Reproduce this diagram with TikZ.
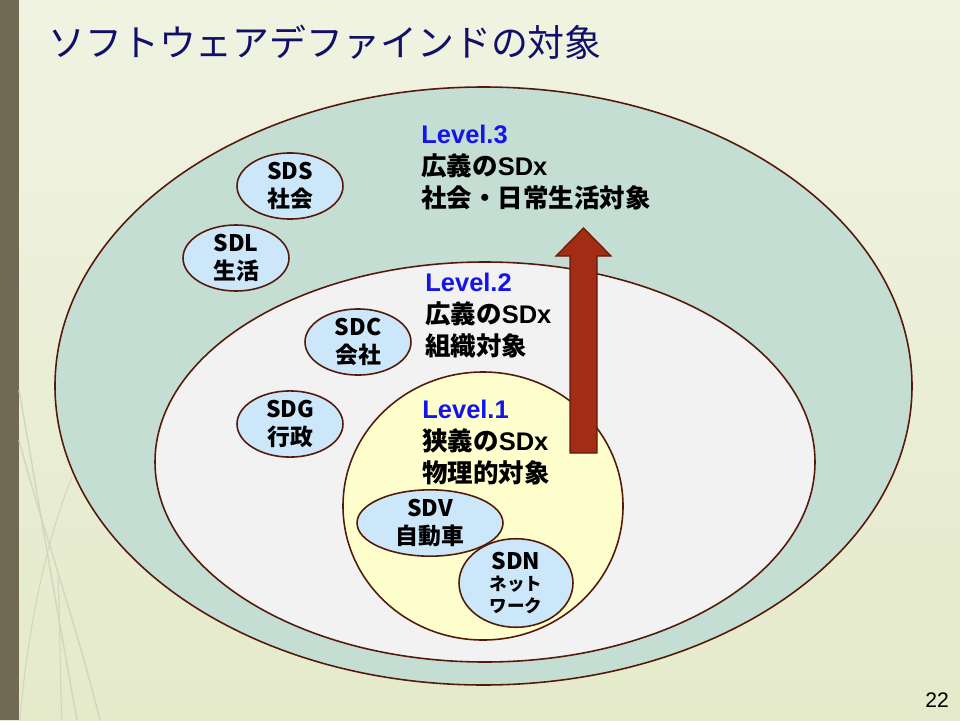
\documentclass[tikz,border=0pt]{standalone}
\usepackage{fontspec}
\setmainfont{Liberation Sans}
\newfontfamily\jp{Noto Sans CJK JP}
\usepackage{tikz}
\usetikzlibrary{positioning,shapes.geometric}

\definecolor{slidetop}{RGB}{241,243,226}
\definecolor{slidebot}{RGB}{228,234,202}
\definecolor{sidebar}{RGB}{112,106,82}
\definecolor{swirl}{RGB}{208,214,192}
\definecolor{titleblue}{RGB}{16,16,104}
\definecolor{ringline}{RGB}{85,25,10}
\definecolor{societyfill}{RGB}{197,222,212}
\definecolor{orgfill}{RGB}{242,242,242}
\definecolor{physfill}{RGB}{255,255,206}
\definecolor{tagfill}{RGB}{204,230,250}
\definecolor{lvblue}{RGB}{20,20,235}
\definecolor{arrowfill}{RGB}{162,45,20}
\definecolor{arrowline}{RGB}{100,25,10}

\newcommand{\smalljp}[1]{{\fontsize{10}{11}\selectfont #1}}

\tikzset{
  ring/.style={draw=ringline, line width=0.9pt},
  tag/.style={ellipse, draw=ringline, line width=0.9pt, fill=tagfill, inner sep=0pt,
    align=center, font=\jp\bfseries\fontsize{13}{15.5}\selectfont},
  lvtext/.style={anchor=north west, inner sep=0pt, align=left,
    font=\bfseries\fontsize{14.5}{18}\selectfont}
}

\begin{document}
\begin{tikzpicture}[x=0.02cm, y=-0.02cm]
    \useasboundingbox (0,0) rectangle (960,720);
    % Slide background
    \shade[top color=slidetop, bottom color=slidebot] (0,0) rectangle (960,720);
    \fill[sidebar] (0,0) rectangle (19,720);
    \draw[swirl, line width=0.8pt] (19,390) .. controls (35,480) and (55,600) .. (77,720);
    \draw[swirl, line width=0.8pt] (19,440) .. controls (40,520) and (75,620) .. (100,720);
    \draw[swirl, line width=0.6pt] (72,477) .. controls (50,530) and (28,620) .. (20,720);
    \draw[swirl, line width=0.6pt] (58,577) .. controls (60,620) and (60,680) .. (62,720);

    % Title
    \node[anchor=west, inner sep=0pt, text=titleblue, font=\jp\fontsize{21}{25}\selectfont]
      (title) at (48,42) {ソフトウェアデファインドの対象};

    % Level rings
    \draw[ring, fill=societyfill] (483.5,386) ellipse [x radius=428.5, y radius=299];
    \draw[ring, fill=orgfill] (485,462) ellipse [x radius=330, y radius=200];
    \draw[ring, fill=physfill] (483,506) ellipse [x radius=140, y radius=134];

    % Upward arrow
    \draw[arrowline, fill=arrowfill, line width=0.7pt]
      (570,453) -- (570,256) -- (556,256) -- (583.5,228) -- (611,256)
      -- (597,256) -- (597,453) -- cycle;

    % Level texts
    \node[lvtext] (lvthree) at (421,125)
      {\textcolor{lvblue}{Level.3}\\{\jp 広義の}SDx\\{\jp 社会・日常生活対象}};
    \node[lvtext] (lvtwo) at (425,273)
      {\textcolor{lvblue}{Level.2}\\{\jp 広義の}SDx\\{\jp 組織対象}};
    \node[lvtext] (lvone) at (422,400)
      {\textcolor{lvblue}{Level.1}\\{\jp 狭義の}SDx\\{\jp 物理的対象}};

    % Domain tags
    \node[tag, minimum width=2.12cm, minimum height=1.12cm] (sds) at (290,186) {SDS\\社会};
    \node[tag, minimum width=2.12cm, minimum height=1.16cm] (sdl) at (236,258) {SDL\\生活};
    \node[tag, minimum width=2.12cm, minimum height=1.16cm] (sdc) at (358,342) {SDC\\会社};
    \node[tag, minimum width=2.12cm, minimum height=1.16cm] (sdg) at (290,424) {SDG\\行政};
    \node[tag, minimum width=2.92cm, minimum height=1.22cm] (sdv) at (430,523) {SDV\\自動車};
    \node[tag, minimum width=2.28cm, minimum height=1.28cm] (sdn) at (516,583)
      {SDN\\[-3pt]\smalljp{ネット}\\[-3pt]\smalljp{ワーク}};

    % Page number
    \node[font=\fontsize{12}{14}\selectfont] (pageno) at (937,700) {22};
\end{tikzpicture}
\end{document}
